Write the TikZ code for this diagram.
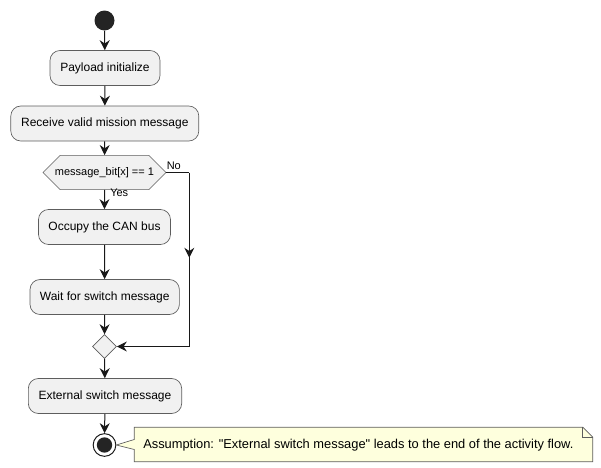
\documentclass[tikz,border=0pt]{standalone}
\usepackage{fontspec}
\setmainfont{Liberation Sans}
\usetikzlibrary{arrows.meta,shapes.geometric,shapes.misc,decorations.markings}
\definecolor{boxfill}{HTML}{F1F1F1}
\definecolor{boxline}{HTML}{181818}
\definecolor{notefill}{HTML}{FEFFDD}
\begin{document}
\begin{tikzpicture}[x=0.75pt,y=-0.75pt,
  act/.style={draw=boxline!70, fill=boxfill, rounded corners=7.5pt, line width=0.5pt,
    minimum height=26.25pt, inner sep=0pt, font=\fontsize{9}{11}\selectfont},
  arr/.style={draw=boxline, line width=0.75pt, -{Stealth[length=7.5pt,width=7.5pt,inset=2.5pt]}},
  plain/.style={draw=boxline, line width=0.75pt},
  lbl/.style={font=\fontsize{8.25}{10}\selectfont, inner sep=0pt},
  midarrow/.style={postaction={decorate}, decoration={markings,
    mark=at position 0.49 with {\arrow{Stealth[length=7.5pt,width=7.5pt,inset=2.5pt]}}}}
]
\useasboundingbox (0,0) rectangle (601,468);
\node[circle, fill=boxline!95, minimum size=15pt, inner sep=0pt] (start) at (104.5,20.5) {};
\node[act, minimum width=82.5pt] (pay) at (105,68) {Payload initialize};
\node[act, minimum width=141pt] (recv) at (104.8,123.5) {Receive valid mission message};
\node[chamfered rectangle, chamfered rectangle xsep=9pt, chamfered rectangle ysep=9pt,
  draw=boxline!70, fill=boxfill, line width=0.5pt, minimum width=92.25pt, minimum height=18pt,
  inner sep=0pt, font=\fontsize{8.25}{10}\selectfont] (dec) at (104.5,172.5) {message\_bit[x] == 1};
\node[act, minimum width=99pt] (occ) at (104.5,227) {Occupy the CAN bus};
\node[act, minimum width=112pt] (wait) at (104.7,297) {Wait for switch message};
\node[diamond, draw=boxline!70, fill=boxfill, line width=0.5pt, minimum width=18pt,
  minimum height=18pt, inner sep=0pt] (merge) at (104.5,346.5) {};
\node[act, minimum width=115pt] (ext) at (105,396) {External switch message};
\node[circle, draw=boxline, line width=0.75pt, fill=white, minimum size=17pt, inner sep=0pt] (end) at (104.5,445) {};
\node[circle, fill=boxline!95, minimum size=11.5pt, inner sep=0pt] at (end.center) {};

\coordinate (nr) at (189.3,172.5);
\coordinate (nb) at (189.3,346.5);

\draw[arr] (start) -- (pay);
\draw[arr] (pay) -- (recv);
\draw[arr] (recv) -- (dec);
\draw[arr] (dec) -- (occ);
\draw[arr] (occ) -- (wait);
\draw[arr] (wait) -- (merge);
\draw[arr] (merge) -- (ext);
\draw[arr] (ext) -- (end);
\draw[plain] (dec.east) -- (nr);
\draw[plain, midarrow] (nr) -- (nb);
\draw[arr] (nb) -- (merge.east);

\node[lbl, anchor=west] (no) at (166.5,165.5) {No};
\node[lbl, anchor=west] (yes) at (110,192.5) {Yes};

\node[minimum width=343.5pt, minimum height=25.5pt, inner sep=0pt] (note) at (363.5,444.5) {};
\draw[draw=boxline!70, fill=notefill, line width=0.5pt]
  (note.north west) -- ([xshift=-7.5pt]note.north east) -- ([yshift=-7.5pt]note.north east)
  -- (note.south east) -- (note.south west) -- ([yshift=-3.75pt]note.west)
  -- (end.east) -- ([yshift=3.75pt]note.west) -- cycle;
\draw[draw=boxline!70, line width=0.5pt]
  ([xshift=-7.5pt]note.north east) -- ([xshift=-7.5pt,yshift=-7.5pt]note.north east)
  -- ([yshift=-7.5pt]note.north east);
\node[anchor=west, inner sep=0pt, font=\fontsize{9.65}{11}\selectfont] (notetext) at (143,445.5)
  {Assumption: \textquotedbl External switch message\textquotedbl{} leads to the end of the activity flow.};
\end{tikzpicture}
\end{document}
